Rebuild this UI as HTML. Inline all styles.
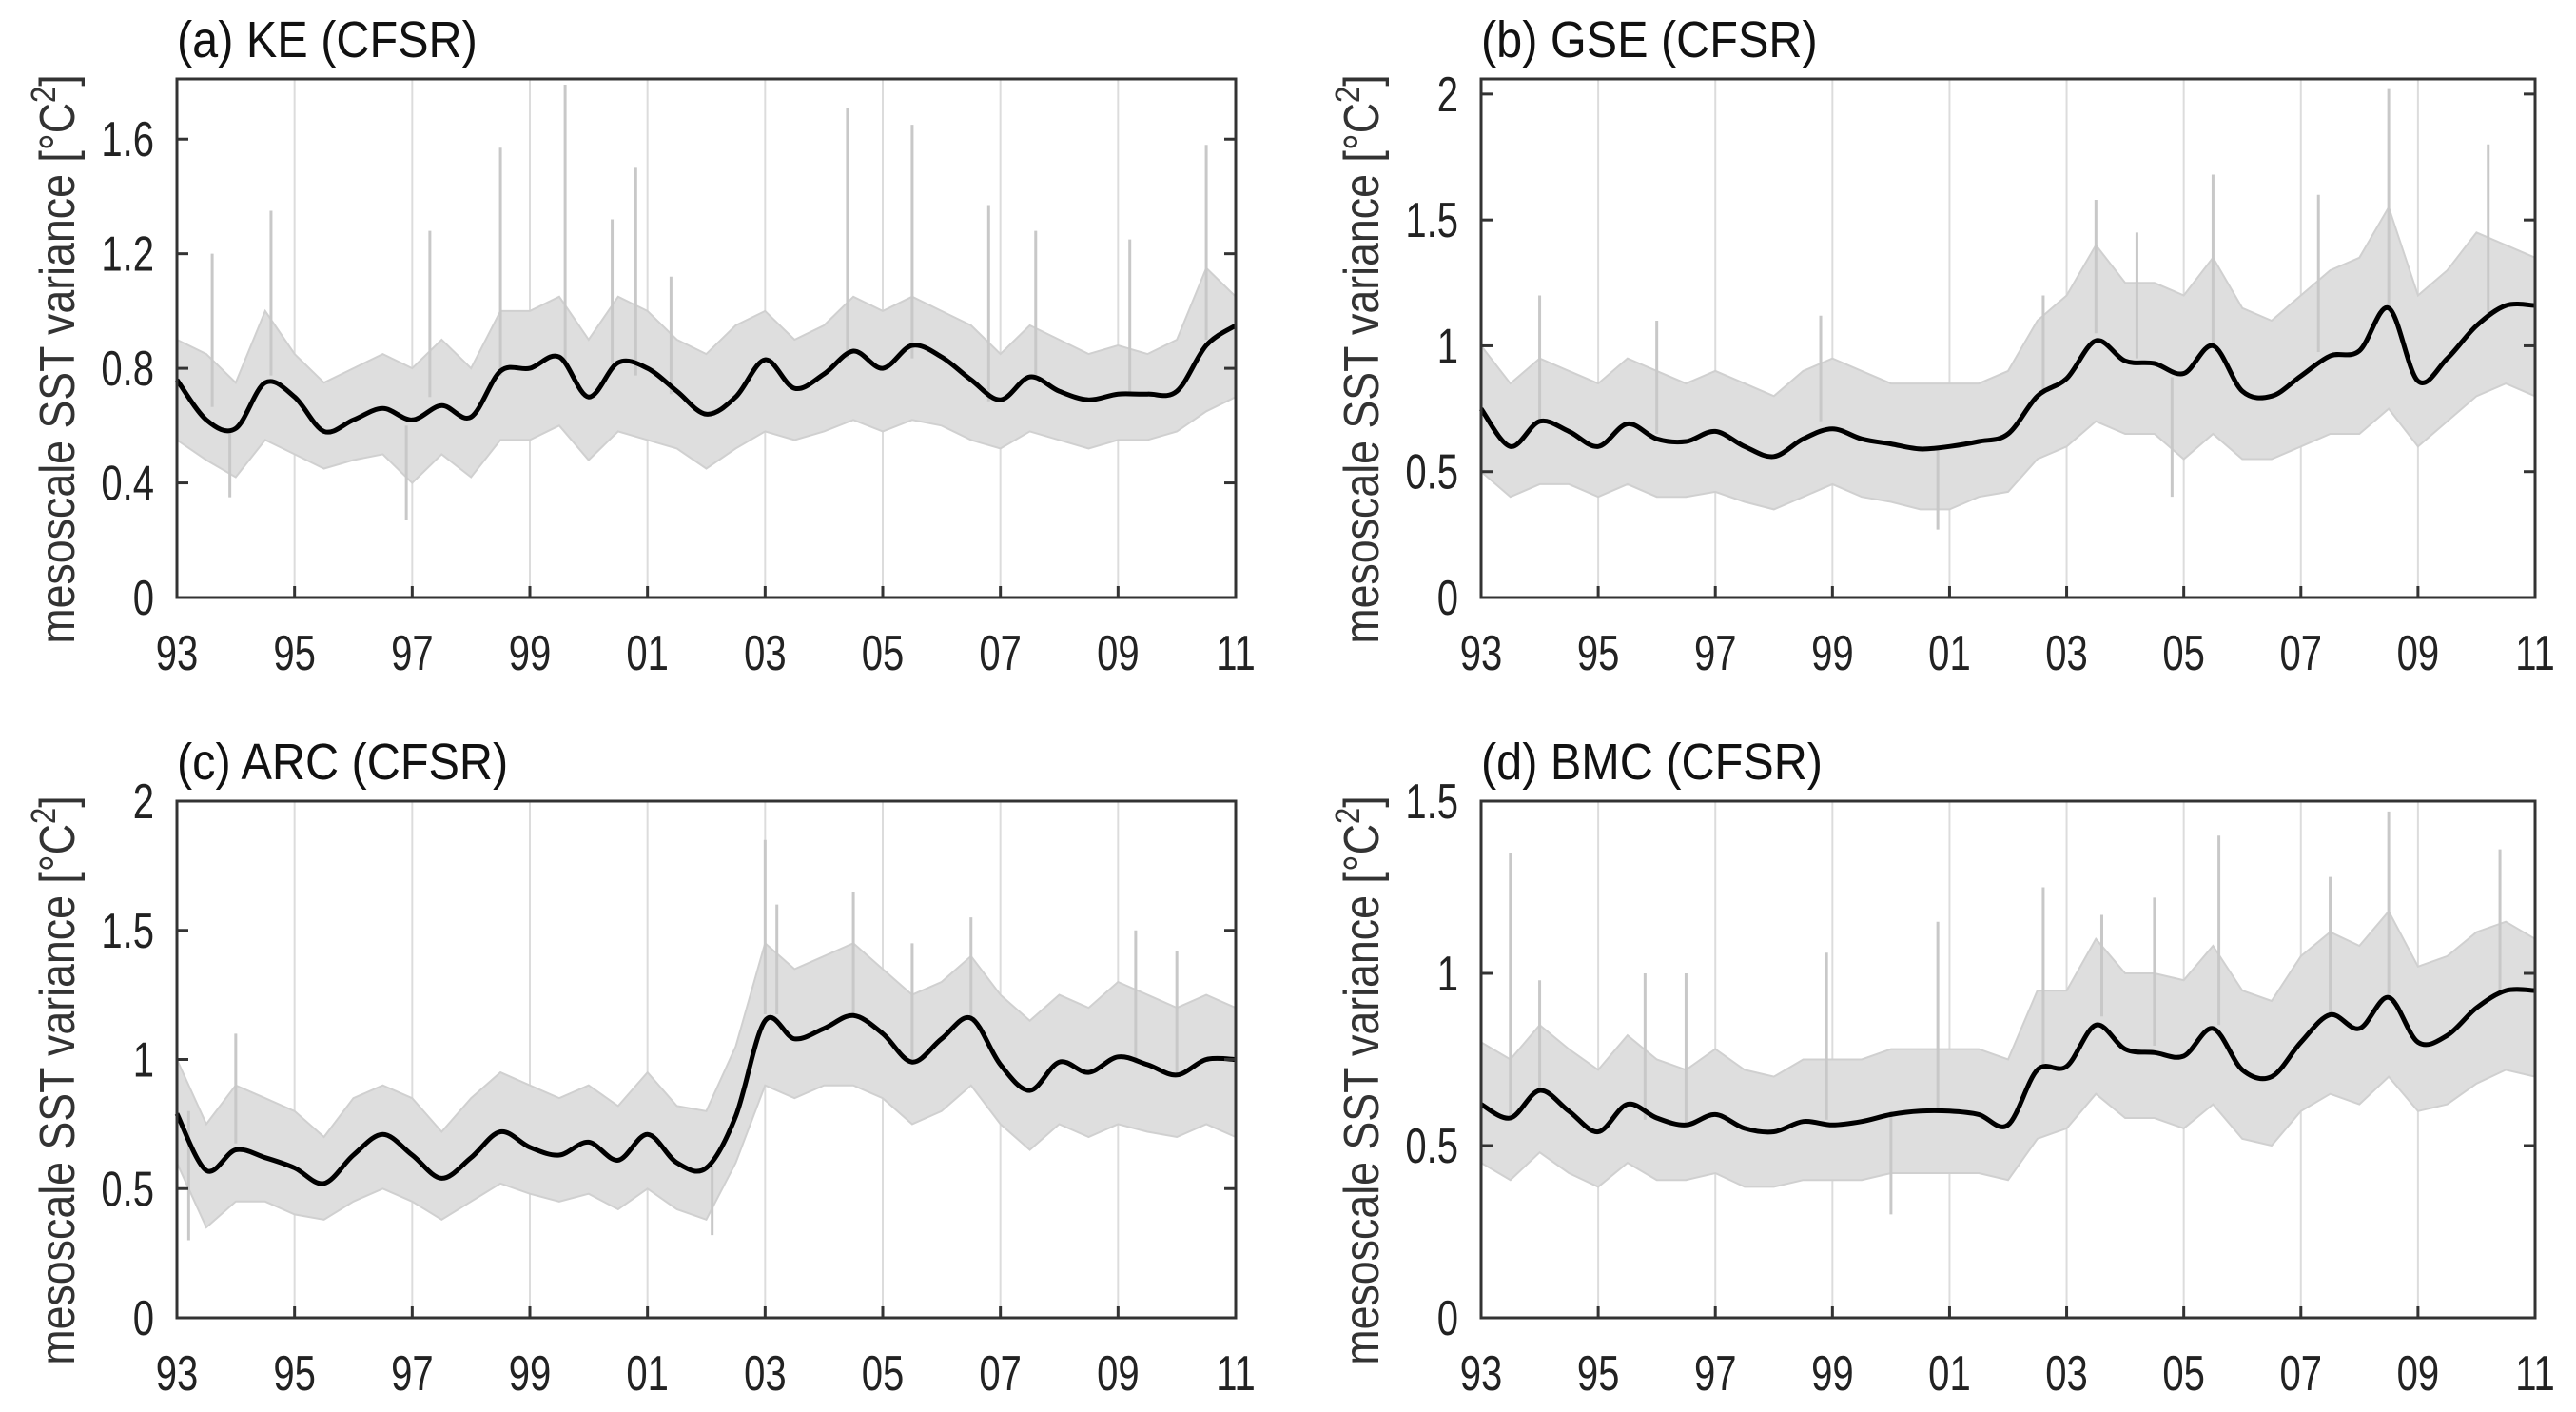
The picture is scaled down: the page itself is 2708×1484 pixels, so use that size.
<!DOCTYPE html>
<html><head><meta charset="utf-8"><style>
html,body{margin:0;padding:0;background:#fff;}
svg{display:block;font-family:"Liberation Sans",sans-serif;}
</style></head><body>
<svg id="fig" width="2708" height="1484" viewBox="0 0 2708 1484" xmlns="http://www.w3.org/2000/svg"></svg>
<script>
// ---- data (half-year grid 1993.0 .. 2011.0) ----
const years = [];
for (let i = 0; i <= 36; i++) years.push(1993 + i * 0.5);
const xTickLabels = ["93","95","97","99","01","03","05","07","09","11"];
const xTickYears = [1993,1995,1997,1999,2001,2003,2005,2007,2009,2011];

const titles = ["(a) KE (CFSR)","(b) GSE (CFSR)","(c) ARC (CFSR)","(d) BMC (CFSR)"];
const yMaxes = [1.81, 2.06, 2.0, 1.5];
const yTicksA = [0,0.4,0.8,1.2,1.6];
const yTicksB = [0,0.5,1,1.5,2];
const yTicksC = [0,0.5,1,1.5,2];
const yTicksD = [0,0.5,1,1.5];

const smoothA = [0.76,0.62,0.59,0.75,0.70,0.58,0.62,0.66,0.62,0.67,0.63,0.79,0.80,0.84,0.70,0.82,0.80,0.72,0.64,0.70,0.83,0.73,0.78,0.86,0.80,0.88,0.84,0.76,0.69,0.77,0.72,0.69,0.71,0.71,0.72,0.88,0.95];
const smoothB = [0.75,0.60,0.70,0.66,0.60,0.69,0.63,0.62,0.66,0.60,0.56,0.63,0.67,0.63,0.61,0.59,0.60,0.62,0.65,0.80,0.87,1.02,0.94,0.93,0.89,1.00,0.82,0.80,0.88,0.96,0.98,1.15,0.86,0.95,1.08,1.16,1.16];
const smoothC = [0.79,0.57,0.65,0.62,0.58,0.52,0.63,0.71,0.63,0.54,0.62,0.72,0.66,0.63,0.68,0.61,0.71,0.60,0.58,0.78,1.15,1.08,1.12,1.17,1.10,0.99,1.08,1.16,0.98,0.88,0.99,0.95,1.01,0.98,0.94,1.00,1.00];
const smoothD = [0.62,0.58,0.66,0.60,0.54,0.62,0.58,0.56,0.59,0.55,0.54,0.57,0.56,0.57,0.59,0.60,0.60,0.59,0.56,0.72,0.73,0.85,0.78,0.77,0.76,0.84,0.72,0.70,0.80,0.88,0.84,0.93,0.80,0.82,0.90,0.95,0.95];

const loA = [0.55,0.48,0.42,0.55,0.50,0.45,0.48,0.50,0.40,0.50,0.42,0.55,0.55,0.60,0.48,0.58,0.55,0.52,0.45,0.52,0.58,0.55,0.58,0.62,0.58,0.62,0.60,0.55,0.52,0.58,0.55,0.52,0.55,0.55,0.58,0.65,0.70];
const hiA = [0.90,0.85,0.75,1.0,0.85,0.75,0.80,0.85,0.80,0.90,0.80,1.0,1.0,1.05,0.90,1.05,1.0,0.90,0.85,0.95,1.0,0.90,0.95,1.05,1.0,1.05,1.0,0.95,0.85,0.95,0.90,0.85,0.88,0.85,0.90,1.15,1.05];
const loB = [0.50,0.40,0.45,0.45,0.40,0.45,0.40,0.40,0.42,0.38,0.35,0.40,0.45,0.40,0.38,0.35,0.35,0.40,0.42,0.55,0.60,0.70,0.65,0.65,0.55,0.65,0.55,0.55,0.60,0.65,0.65,0.75,0.60,0.70,0.80,0.85,0.80];
const hiB = [1.0,0.85,0.95,0.90,0.85,0.95,0.90,0.85,0.90,0.85,0.80,0.90,0.95,0.90,0.85,0.85,0.85,0.85,0.90,1.10,1.20,1.40,1.25,1.25,1.20,1.35,1.15,1.10,1.20,1.30,1.35,1.55,1.20,1.30,1.45,1.40,1.35];
const loC = [0.60,0.35,0.45,0.45,0.40,0.38,0.45,0.50,0.45,0.38,0.45,0.52,0.48,0.45,0.48,0.42,0.50,0.42,0.38,0.60,0.90,0.85,0.90,0.90,0.85,0.75,0.80,0.90,0.75,0.65,0.75,0.70,0.75,0.72,0.70,0.75,0.70];
const hiC = [1.0,0.75,0.90,0.85,0.80,0.70,0.85,0.90,0.85,0.72,0.85,0.95,0.90,0.85,0.90,0.82,0.95,0.82,0.80,1.05,1.45,1.35,1.40,1.45,1.35,1.25,1.30,1.40,1.25,1.15,1.25,1.20,1.30,1.25,1.20,1.25,1.20];
const loD = [0.45,0.40,0.48,0.42,0.38,0.45,0.40,0.40,0.42,0.38,0.38,0.40,0.40,0.40,0.42,0.42,0.42,0.42,0.40,0.52,0.55,0.65,0.58,0.58,0.55,0.62,0.52,0.50,0.60,0.65,0.62,0.70,0.60,0.62,0.68,0.72,0.70];
const hiD = [0.80,0.75,0.85,0.78,0.72,0.82,0.75,0.72,0.78,0.72,0.70,0.75,0.75,0.75,0.78,0.78,0.78,0.78,0.75,0.95,0.95,1.10,1.00,1.00,0.98,1.08,0.95,0.92,1.05,1.12,1.08,1.18,1.02,1.05,1.12,1.15,1.10];

const spikeYearsA = [1993.6,1994.6,1997.3,1998.5,1999.6,2000.4,2000.8,2001.4,2004.4,2005.5,2006.8,2007.6,2009.2,2010.5,1996.9,1993.9];
const spikeValsA  = [1.2,1.35,1.28,1.57,1.79,1.32,1.50,1.12,1.71,1.65,1.37,1.28,1.25,1.58,0.27,0.35];
const spikeYearsB = [1994.0,1996.0,1998.8,2002.6,2003.5,2004.2,2005.5,2007.3,2008.5,2010.2,2000.8,2004.8];
const spikeValsB  = [1.2,1.1,1.12,1.2,1.58,1.45,1.68,1.6,2.02,1.8,0.27,0.40];
const spikeYearsC = [1994.0,2003.0,2003.2,2004.5,2005.5,2006.5,2009.3,2010.0,1993.2,2002.1];
const spikeValsC  = [1.1,1.85,1.6,1.65,1.45,1.55,1.5,1.42,0.3,0.32];
const spikeYearsD = [1993.5,1994.0,1995.8,1996.5,1998.9,2000.8,2002.6,2003.6,2004.5,2005.6,2007.5,2008.5,2010.4,2000.0];
const spikeValsD  = [1.35,0.98,1.0,1.0,1.06,1.15,1.25,1.17,1.22,1.4,1.28,1.47,1.36,0.3];

// ---- layout ----
const NS = "http://www.w3.org/2000/svg";
const svg = document.getElementById("fig");
const panels = [
  {x0:186,x1:1299,y0:83,y1:628, ticks:yTicksA, smooth:smoothA, lo:loA, hi:hiA, sy:spikeYearsA, sv:spikeValsA, fmt:v=>v===0?"0":v.toFixed(1)},
  {x0:1557,x1:2665,y0:83,y1:628, ticks:yTicksB, smooth:smoothB, lo:loB, hi:hiB, sy:spikeYearsB, sv:spikeValsB, fmt:v=>String(v)},
  {x0:186,x1:1299,y0:842,y1:1385, ticks:yTicksC, smooth:smoothC, lo:loC, hi:hiC, sy:spikeYearsC, sv:spikeValsC, fmt:v=>String(v)},
  {x0:1557,x1:2665,y0:842,y1:1385, ticks:yTicksD, smooth:smoothD, lo:loD, hi:hiD, sy:spikeYearsD, sv:spikeValsD, fmt:v=>String(v)}
];
const names = ["ke","gse","arc","bmc"];

function el(tag, attrs, parent){
  const e = document.createElementNS(NS, tag);
  for (const k in attrs) e.setAttribute(k, attrs[k]);
  (parent||svg).appendChild(e);
  return e;
}
function catmull(pts){
  let d = "M"+pts[0][0].toFixed(1)+","+pts[0][1].toFixed(1);
  for (let i=0;i<pts.length-1;i++){
    const p0=pts[Math.max(0,i-1)], p1=pts[i], p2=pts[i+1], p3=pts[Math.min(pts.length-1,i+2)];
    const c1=[p1[0]+(p2[0]-p0[0])/6, p1[1]+(p2[1]-p0[1])/6];
    const c2=[p2[0]-(p3[0]-p1[0])/6, p2[1]-(p3[1]-p1[1])/6];
    d+=" C"+c1[0].toFixed(1)+","+c1[1].toFixed(1)+" "+c2[0].toFixed(1)+","+c2[1].toFixed(1)+" "+p2[0].toFixed(1)+","+p2[1].toFixed(1);
  }
  return d;
}

panels.forEach((p, idx) => {
  const g = el("g", {});
  
  
  const xs = yr => p.x0 + (yr - 1993) / 18 * (p.x1 - p.x0);
  const ys = v => p.y1 - v / yMaxes[idx] * (p.y1 - p.y0);

  xTickYears.forEach((yr, i) => {
    if (i === 0 || i === xTickYears.length-1) return;
    const l = el("line", {x1:xs(yr), x2:xs(yr), y1:p.y0, y2:p.y1, stroke:"#dcdcdc", "stroke-width":2}, g);
    
    
  });

  let pts = years.map((yr,i)=>[xs(yr), ys(p.hi[i])]);
  let ptsLo = years.map((yr,i)=>[xs(yr), ys(p.lo[i])]).reverse();
  const band = el("polygon", {points: pts.concat(ptsLo).map(q=>q[0].toFixed(1)+","+q[1].toFixed(1)).join(" "), fill:"#dedede", stroke:"#d0d0d0", "stroke-width":2}, g);
  
  
  p.sy.forEach((yr, i) => {
    const k = Math.round((yr-1993)*2);
    const mid = (p.lo[k]+p.hi[k])/2;
    const s = el("line", {x1:xs(yr), x2:xs(yr), y1:ys(mid), y2:ys(p.sv[i]), stroke:"#c8c8c8", "stroke-width":3}, g);
    
    
  });

  const sp = years.map((yr,i)=>[xs(yr), ys(p.smooth[i])]);
  const line = el("path", {d: catmull(sp), fill:"none", stroke:"#000", "stroke-width":5, "stroke-linejoin":"round"}, g);
  
  

  const box = el("rect", {x:p.x0, y:p.y0, width:p.x1-p.x0, height:p.y1-p.y0, fill:"none", stroke:"#333", "stroke-width":3}, g);
  
  

  p.ticks.forEach(v => {
    const y = ys(v);
    el("line", {x1:p.x0, x2:p.x0+12, y1:y, y2:y, stroke:"#333", "stroke-width":3}, g);
    el("line", {x1:p.x1-12, x2:p.x1, y1:y, y2:y, stroke:"#333", "stroke-width":3}, g);
    const t = el("text", {transform:"translate("+(p.x0-24)+","+(y+18)+") scale(0.77,1)", "text-anchor":"end", "font-size":52, fill:"#222"}, g);
    t.textContent = p.fmt(v);
    
    
  });
  xTickYears.forEach((yr, i) => {
    const x = xs(yr);
    el("line", {x1:x, x2:x, y1:p.y1-12, y2:p.y1, stroke:"#333", "stroke-width":3}, g);
    const t = el("text", {transform:"translate("+x+","+(p.y1+76)+") scale(0.77,1)", "text-anchor":"middle", "font-size":52, fill:"#222"}, g);
    t.textContent = xTickLabels[i];
    
    
  });

  const ti = el("text", {transform:"translate("+p.x0+","+(p.y0-23)+") scale(0.9,1)", "font-size":54, fill:"#111"}, g);
  ti.textContent = titles[idx];
  
  

  const lx = p.x0 - 108, ly = (p.y0+p.y1)/2 + 22;
  const yl = el("text", {transform:"translate("+lx+","+ly+") rotate(-90) scale(0.86,1)", "text-anchor":"middle", "font-size":52, fill:"#333"}, g);
  
  
  yl.appendChild(document.createTextNode("mesoscale SST variance  [°C"));
  const sup = el("tspan", {"font-size":36, dy:-20}, yl);
  sup.textContent = "2";
  const close = el("tspan", {dy:20}, yl);
  close.textContent = "]";
});
</script>
</body></html>
